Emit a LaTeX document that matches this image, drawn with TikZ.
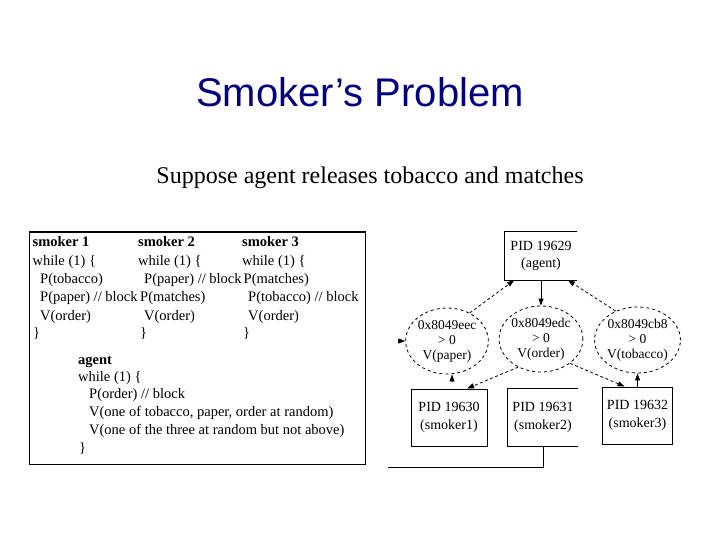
\documentclass[tikz,border=0pt]{standalone}
\usepackage{fontspec}
\setmainfont{Liberation Serif}
\newfontfamily\titlefont{Liberation Sans}
\usetikzlibrary{arrows.meta,shapes.geometric}
\definecolor{titleblue}{RGB}{0,0,128}
\begin{document}
\begin{tikzpicture}[x=1pt,y=-1pt,
  code/.style={anchor=base west, inner sep=0pt, font=\fontsize{14.5}{16}\selectfont},
  codeb/.style={anchor=base west, inner sep=0pt, font=\fontsize{14.5}{16}\selectfont\bfseries},
  ell/.style={ellipse, draw, dashed, line width=0.8pt, minimum width=79pt, minimum height=66pt, inner sep=0pt, align=center, font=\fontsize{13.5}{15}\selectfont},
  pbox/.style={rectangle, minimum height=57pt, inner sep=0pt, align=center, font=\fontsize{14}{18}\selectfont},
  conn/.style={line width=0.8pt, -{Triangle[length=7pt,width=5pt]}},
  dconn/.style={conn, dash pattern=on 3pt off 2.5pt},
  frame/.style={line width=1pt}]
\useasboundingbox (0,0) rectangle (720,540);

% titles
\node[font=\titlefont\fontsize{40}{48}\selectfont, text=titleblue, anchor=base] (title) at (360,107) {Smoker’s Problem};
\node[font=\fontsize{24}{28}\selectfont, anchor=base] (sub) at (370,184) {Suppose agent releases tobacco and matches};

% code box
\node[draw, frame, minimum width=336pt, minimum height=232pt, inner sep=0pt] (codebox) at (197,348) {};
\node[codeb] (a1) at (32.5,247) {smoker 1};
\node[code]  (a2) at (32.5,265) {while (1) \{};
\node[code]  (a3) at (40,283) {P(tobacco)};
\node[code]  (a4) at (40,301) {P(paper) // block};
\node[code]  (a5) at (40,320) {V(order)};
\node[code]  (a6) at (33,337) {\}};
\node[codeb] (b1t) at (138,247) {smoker 2};
\node[code]  (b2t) at (138,265) {while (1) \{};
\node[code]  (b3t) at (144,283) {P(paper) // block};
\node[code]  (b4t) at (140,301) {P(matches)};
\node[code]  (b5t) at (144,320) {V(order)};
\node[code]  (b6t) at (140,337) {\}};
\node[codeb] (c1) at (242,247) {smoker 3};
\node[code]  (c2) at (242,265) {while (1) \{};
\node[code]  (c3) at (243.5,283) {P(matches)};
\node[code]  (c4) at (248,301) {P(tobacco) // block};
\node[code]  (c5) at (248,320) {V(order)};
\node[code]  (c6) at (243,337) {\}};
\node[codeb] (d1) at (78,364) {agent};
\node[code]  (d2) at (78,381) {while (1) \{};
\node[code]  (d3) at (89,398) {P(order) // block};
\node[code]  (d4) at (89,416) {V(one of tobacco, paper, order at random)};
\node[code]  (d5) at (89,434) {V(one of the three at random but not above)};
\node[code]  (d6) at (79,452) {\}};

% graph
\node[pbox, minimum width=72pt, minimum height=48pt, font=\fontsize{14}{17}\selectfont] (agent) at (541,256) {PID 19629\\(agent)};
\draw[frame] (agent.north east) -- (agent.north west) -- (agent.south west) -- (agent.south east);

\node[ell] (le) at (447,341) {0x8049eec\\> 0\\V(paper)};
\node[ell] (me) at (541,339) {0x8049edc\\> 0\\V(order)};
\node[ell] (re) at (637.5,340) {0x8049cb8\\> 0\\V(tobacco)};

\node[pbox, draw, frame, minimum width=76pt] (p1) at (449,417.5) {PID 19630\\(smoker1)};
\node[pbox, minimum width=70pt] (p2) at (543,417.5) {PID 19631\\(smoker2)};
\draw[frame] (p2.north east) -- (p2.north west) -- (p2.south west) -- (p2.south east);
\node[pbox, draw, frame, minimum width=70pt] (p3) at (637.5,415.5) {PID 19632\\(smoker3)};

\draw[dconn] (le.51) -- (agent.222);
\draw[conn] (agent) -- (me);
\draw[dconn] (re.127) -- (agent.318);
\draw[dconn] (me.231) -- (p1.58);
\draw[dconn] (me.320) -- (p3.114);
\draw[conn] (p3) -- (re);

\coordinate (s1) at (401,341);
\draw[conn] (s1) -- (le.west);
\coordinate (s2) at (452,382);
\draw[conn] (s2) -- (s2 |- le.south);

\coordinate (lend) at (388,467);
\draw[frame] (p2.south) |- (lend);
\end{tikzpicture}
\end{document}
